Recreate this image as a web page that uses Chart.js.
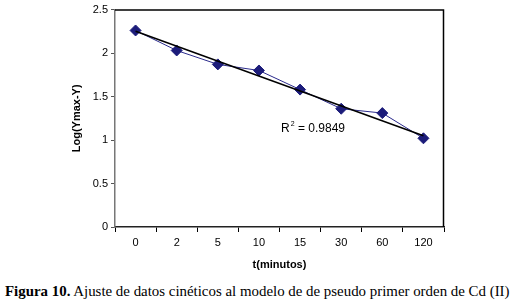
<!DOCTYPE html>
<html><head><meta charset="utf-8">
<script src="https://cdn.jsdelivr.net/npm/chart.js@4/dist/chart.umd.min.js"></script>
<style>
html,body{margin:0;padding:0;background:#fff;width:517px;height:306px;overflow:hidden;position:relative}
#wrap{position:absolute;left:0;top:0;width:517px;height:272px}
#cap{position:absolute;left:5px;top:283px;font-family:"Liberation Serif","Times New Roman",serif;font-size:14.9px;color:#000;white-space:nowrap;letter-spacing:0}
</style></head><body>
<div id="wrap"><canvas id="c" width="517" height="272"></canvas></div>
<div id="cap"><b>Figura 10.</b> Ajuste de datos cinéticos al modelo de de pseudo primer orden de Cd (II)</div>
<script>
const categories = ["0","2","5","10","15","30","60","120"];
const logValues = [2.26, 2.03, 1.87, 1.80, 1.58, 1.36, 1.31, 1.02];
const trendValues = [2.25, null, null, null, null, null, null, 1.05];
const yTicks = [0, 0.5, 1, 1.5, 2, 2.5];
const r2Label = "0.9849";

const frame = {
  id:'frame',
  afterDraw(chart){
    const a = chart.chartArea, ctx = chart.ctx;
    ctx.save();
    ctx.strokeStyle = '#000'; ctx.lineWidth = 1.5;
    ctx.beginPath();
    ctx.moveTo(a.left, a.top+0.5); ctx.lineTo(a.right-0.5, a.top+0.5); ctx.lineTo(a.right-0.5, a.bottom);
    ctx.stroke();
    ctx.fillStyle = '#000';
    ctx.font = '12px "Liberation Sans", Arial, sans-serif';
    ctx.textBaseline = 'alphabetic';
    const x0 = a.left + 166, y0 = a.top + 122;
    ctx.fillText('R', x0, y0);
    const w = ctx.measureText('R').width;
    ctx.font = '7px "Liberation Sans", Arial, sans-serif';
    ctx.fillText('2', x0 + w + 1, y0 - 6);
    ctx.font = '12px "Liberation Sans", Arial, sans-serif';
    ctx.fillText(' = ' + r2Label, x0 + w + 5, y0);
    ctx.restore();
  }
};

new Chart(document.getElementById('c'), {
  type:'line',
  data:{
    labels: categories,
    datasets:[
      {data: logValues, borderColor:'#2b2b8c', borderWidth:1, backgroundColor:'#1c1c7a',
       pointStyle:'rectRot', pointRadius:5.5, pointBorderColor:'#1c1c7a', pointBackgroundColor:'#1c1c7a', tension:0, order:2},
      {data: trendValues, borderColor:'#000', borderWidth:1.6, pointRadius:0, spanGaps:true, tension:0, order:1}
    ]
  },
  options:{
    responsive:false, animation:false,
    layout:{padding:{top:5, right:73, left:70, bottom:0}},
    plugins:{legend:{display:false}, tooltip:{enabled:false}},
    scales:{
      x:{
        offset:true,
        grid:{offset:true, drawOnChartArea:false, drawTicks:true, tickLength:5, color:'#000'},
        border:{color:'#222', width:1.5},
        ticks:{color:'#000', font:{family:'"Liberation Sans", Arial, sans-serif', size:11}, padding:4, maxRotation:0},
        title:{display:true, text:'t(minutos)', color:'#000', font:{family:'"Liberation Sans", Arial, sans-serif', size:11, weight:'bold'}, padding:{top:9,bottom:0}},
        afterFit(s){ s.height = 45; }
      },
      y:{
        min:0, max:2.5,
        afterBuildTicks(s){ s.ticks = yTicks.map(v=>({value:v})); },
        grid:{drawOnChartArea:false, drawTicks:true, tickLength:4, color:'#555'},
        border:{color:'#777', width:1.5},
        ticks:{color:'#000', font:{family:'"Liberation Sans", Arial, sans-serif', size:11}, padding:3,
               callback:(v)=>String(v)},
        title:{display:true, text:'Log(Ymax-Y)', color:'#000', font:{family:'"Liberation Sans", Arial, sans-serif', size:11, weight:'bold'}, padding:{top:0,bottom:8}},
        afterFit(s){ s.width = 45; }
      }
    }
  },
  plugins:[frame]
});
</script>
</body></html>
